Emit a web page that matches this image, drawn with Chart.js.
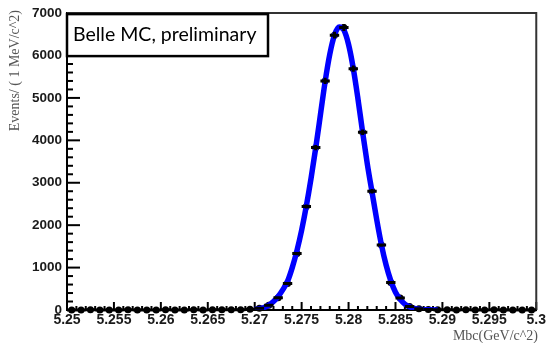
<!DOCTYPE html>
<html>
<head>
<meta charset="utf-8">
<script src="https://cdn.jsdelivr.net/npm/chart.js@4.4.0/dist/chart.umd.min.js"></script>
<style>
  html, body { margin: 0; padding: 0; background: #fff; }
</style>
</head>
<body>
<canvas id="c" width="548" height="343"></canvas>
<script>
// axis ticks
const xTicks = [5.25, 5.255, 5.26, 5.265, 5.27, 5.275, 5.28, 5.285, 5.29, 5.295, 5.3];
const xTickLabels = ["5.25", "5.255", "5.26", "5.265", "5.27", "5.275", "5.28", "5.285", "5.29", "5.295", "5.3"];
const yTicks = [0, 1000, 2000, 3000, 4000, 5000, 6000, 7000];

// histogram: 50 bins of 1 MeV from 5.25 to 5.30
const binLow = 5.25;
const binWidth = 0.001;
const counts = [
  2, 1, 3, 2, 1, 2, 3, 1, 2, 2,
  3, 2, 1, 3, 2, 4, 3, 5, 6, 15,
  40, 110, 290, 625, 1330, 2440, 3830, 5400, 6480, 6660,
  5690, 4190, 2800, 1530, 650, 280, 85, 30, 10, 4,
  3, 2, 3, 1, 2, 3, 2, 1, 2, 1
];

// gaussian fit curve
const fitMass = [
  5.2700, 5.2705, 5.2710, 5.2715, 5.2720, 5.2725, 5.2730, 5.2735, 5.2740, 5.2745,
  5.2750, 5.2755, 5.2760, 5.2765, 5.2770, 5.2775, 5.2780, 5.2785, 5.2790, 5.2795,
  5.2800, 5.2805, 5.2810, 5.2815, 5.2820, 5.2825, 5.2830, 5.2835, 5.2840, 5.2845,
  5.2850, 5.2855, 5.2860, 5.2865, 5.2870, 5.2875, 5.2880, 5.2885, 5.2890, 5.2895
];
const fitValues = [
  15, 30, 60, 115, 200, 320, 480, 680, 1000, 1400,
  1880, 2450, 3100, 3820, 4600, 5380, 6030, 6480, 6670, 6600,
  6260, 5700, 4980, 4190, 3440, 2780, 2130, 1540, 1060, 690,
  420, 250, 140, 75, 38, 18, 8, 4, 2, 1
];

const binCenters = counts.map((_, i) => binLow + (i + 0.5) * binWidth);

const rootStyle = {
  id: 'rootStyle',
  beforeDatasetsDraw(chart) {
    const { ctx, chartArea: a, scales: { x, y } } = chart;
    ctx.save();
    ctx.strokeStyle = '#000';
    ctx.lineWidth = 2;
    // minor + major ticks on x, pointing inside
    for (let i = 0; i <= 50; i++) {
      const px = x.getPixelForValue(binLow + i * binWidth);
      const len = i % 5 === 0 ? 8 : 4;
      ctx.beginPath();
      ctx.moveTo(px, a.bottom);
      ctx.lineTo(px, a.bottom - len);
      ctx.stroke();
    }
    // minor + major ticks on y
    for (let v = 0; v <= 7000; v += 200) {
      const py = y.getPixelForValue(v);
      const len = v % 1000 === 0 ? 13 : 6;
      ctx.beginPath();
      ctx.moveTo(a.left, py);
      ctx.lineTo(a.left + len, py);
      ctx.stroke();
    }
    // frame
    ctx.strokeStyle = '#333';
    ctx.beginPath();
    ctx.moveTo(a.left, a.top);
    ctx.lineTo(a.right, a.top);
    ctx.lineTo(a.right, a.bottom);
    ctx.stroke();
    ctx.restore();
  },
  afterDatasetsDraw(chart) {
    const { ctx, scales: { x, y } } = chart;
    ctx.save();
    ctx.strokeStyle = '#000';
    ctx.lineWidth = 3;
    counts.forEach((n, i) => {
      const x0 = x.getPixelForValue(binLow + i * binWidth);
      const x1 = x.getPixelForValue(binLow + (i + 1) * binWidth);
      const xc = x.getPixelForValue(binCenters[i]);
      const yc = y.getPixelForValue(n);
      const err = Math.sqrt(n);
      ctx.beginPath();
      ctx.moveTo(x0, yc);
      ctx.lineTo(x1, yc);
      ctx.moveTo(xc, y.getPixelForValue(n - err));
      ctx.lineTo(xc, y.getPixelForValue(n + err));
      ctx.stroke();
    });
    ctx.restore();
  },
  afterDraw(chart) {
    const { ctx, chartArea: a } = chart;
    ctx.save();
    // label box
    ctx.fillStyle = '#fff';
    ctx.fillRect(a.left, a.top + 1, 201, 42);
    ctx.strokeStyle = '#000';
    ctx.lineWidth = 2.5;
    ctx.strokeRect(a.left, a.top + 1, 201, 42);
    ctx.fillStyle = '#000';
    ctx.font = '19.5px Lato';
    ctx.textBaseline = 'middle';
    ctx.fillText('Belle MC, preliminary', a.left + 6, a.top + 22);
    // axis titles
    ctx.fillStyle = '#555';
    ctx.font = '14px "Liberation Serif"';
    ctx.textAlign = 'right';
    ctx.textBaseline = 'alphabetic';
    ctx.fillText('Mbc(GeV/c^2)', 538, 340);
    ctx.translate(19, 10);
    ctx.rotate(-Math.PI / 2);
    ctx.fillText('Events/ ( 1 MeV/c^2)', 0, 0);
    ctx.restore();
  }
};

new Chart(document.getElementById('c'), {
  type: 'scatter',
  data: {
    datasets: [
      {
        type: 'line',
        data: fitMass.map((m, i) => ({ x: m, y: fitValues[i] })),
        borderColor: '#0000ff',
        borderWidth: 5.5,
        pointRadius: 0,
        cubicInterpolationMode: 'monotone',
        fill: false
      },
      {
        data: binCenters.map((m, i) => ({ x: m, y: counts[i] })),
        backgroundColor: '#000',
        borderWidth: 0,
        pointRadius: 3.5,
        clip: false
      }
    ]
  },
  plugins: [rootStyle],
  options: {
    responsive: false,
    animation: false,
    devicePixelRatio: 1,
    layout: { padding: { left: 0, top: 11, right: 9, bottom: 0 } },
    plugins: { legend: { display: false }, tooltip: { enabled: false } },
    scales: {
      x: {
        type: 'linear',
        min: 5.25,
        max: 5.3,
        afterBuildTicks: s => { s.ticks = xTicks.map(v => ({ value: v })); },
        afterFit: s => { s.height = 33; },
        grid: { display: false, drawTicks: false },
        border: { display: true, color: '#000', width: 2 },
        ticks: {
          autoSkip: false,
          maxRotation: 0,
          padding: 2,
          color: '#1a1a1a',
          font: { family: '"Liberation Sans"', size: 14, weight: 'bold' },
          callback: (v, i) => xTickLabels[i]
        }
      },
      y: {
        min: 0,
        max: 7000,
        afterBuildTicks: s => { s.ticks = yTicks.map(v => ({ value: v })); },
        afterFit: s => { s.width = 67; },
        grid: { display: false, drawTicks: false },
        border: { display: true, color: '#000', width: 2 },
        ticks: {
          padding: 5,
          color: '#1a1a1a',
          font: { family: '"Liberation Sans"', size: 13.5, weight: 'bold' },
          callback: v => String(v)
        }
      }
    }
  }
});
</script>
</body>
</html>
